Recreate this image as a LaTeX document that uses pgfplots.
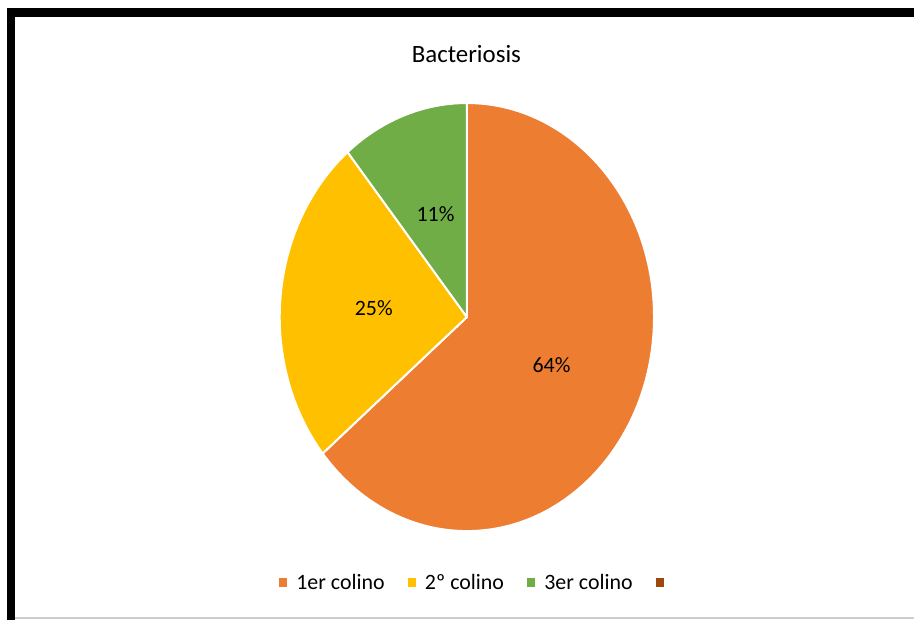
\documentclass[border=0pt]{standalone}
\usepackage{fontspec}
\setmainfont{Carlito}
\usepackage{pgfplots}
\pgfplotsset{compat=1.18}

\definecolor{slOrange}{HTML}{ED7D31}
\definecolor{slYellow}{HTML}{FFC000}
\definecolor{slGreen}{HTML}{70AD47}
\definecolor{slBrown}{HTML}{9E480E}
\definecolor{edgeGray}{RGB}{205,205,205}

\pgfplotsset{
    sqlegend/.style={
        legend image code/.code={\fill[##1, draw=none] (0pt,-4.5pt) rectangle (8.5pt,4.5pt);}
    }
}

\begin{document}
\begin{tikzpicture}
    % pie geometry (1 axis unit = 1pt = 1 px of the reference)
    \def\cx{469}
    \def\cy{304.5}
    \def\rx{188}
    \def\ry{215}
    % shares in percent
    \def\vA{64}
    \def\vB{25}
    \def\vC{11}
    \pgfmathsetmacro{\aZ}{90}
    \pgfmathsetmacro{\aA}{\aZ-3.6*\vA}
    \pgfmathsetmacro{\aB}{\aA-3.6*\vB}
    \pgfmathsetmacro{\aC}{\aB-3.6*\vC}

    \begin{axis}[
        scale only axis,
        width=918pt, height=623pt,
        xmin=0, xmax=918, ymin=0, ymax=623,
        hide axis,
        clip=false,
        legend columns=4,
        legend style={
            at={(280/918,38/623)}, anchor=west,
            draw=none, fill=none, inner sep=0pt,
            nodes={inner sep=0pt, font=\fontsize{22}{26}\selectfont},
            /tikz/every odd column/.append style={column sep=9pt},
            /tikz/every even column/.append style={column sep=23pt},
        },
    ]
    \path (axis cs:0,0) rectangle (axis cs:918,623);

    % frame
    \draw[black, line width=8.4pt, line join=miter]
        (axis cs:11.3,0) -- (axis cs:11.3,610.5) -- (axis cs:918,610.5);
    \draw[edgeGray, line width=2pt] (axis cs:15.5,2.5) -- (axis cs:918,2.5);

    % slices
    \filldraw[fill=slOrange, draw=white, line width=2pt, line join=round]
        (axis cs:\cx,\cy) -- (axis cs:{\cx+\rx*cos(\aZ)},{\cy+\ry*sin(\aZ)})
        arc[start angle=\aZ, end angle=\aA, x radius=\rx pt, y radius=\ry pt] -- cycle;
    \filldraw[fill=slYellow, draw=white, line width=2pt, line join=round]
        (axis cs:\cx,\cy) -- (axis cs:{\cx+\rx*cos(\aA)},{\cy+\ry*sin(\aA)})
        arc[start angle=\aA, end angle=\aB, x radius=\rx pt, y radius=\ry pt] -- cycle;
    \filldraw[fill=slGreen, draw=white, line width=2pt, line join=round]
        (axis cs:\cx,\cy) -- (axis cs:{\cx+\rx*cos(\aB)},{\cy+\ry*sin(\aB)})
        arc[start angle=\aB, end angle=\aC, x radius=\rx pt, y radius=\ry pt] -- cycle;

    % data labels
    \node[anchor=base, inner sep=0pt, font=\fontsize{22}{26}\selectfont]
        at (axis cs:554,249) {64\%};
    \node[anchor=base, inner sep=0pt, font=\fontsize{22}{26}\selectfont]
        at (axis cs:375.5,306) {25\%};
    \node[anchor=base, inner sep=0pt, font=\fontsize{22}{26}\selectfont]
        at (axis cs:437.5,400) {11\%};

    % title
    \node[anchor=base, inner sep=0pt, font=\fontsize{25}{30}\selectfont]
        at (axis cs:468.5,560.3) {Bacteriosis};

    % legend
    \addlegendimage{sqlegend, fill=slOrange}
    \addlegendentry{1er colino}
    \addlegendimage{sqlegend, fill=slYellow}
    \addlegendentry{2º colino}
    \addlegendimage{sqlegend, fill=slGreen}
    \addlegendentry{3er colino}
    \addlegendimage{sqlegend, fill=slBrown}
    \addlegendentry{}
    \end{axis}
\end{tikzpicture}
\end{document}
